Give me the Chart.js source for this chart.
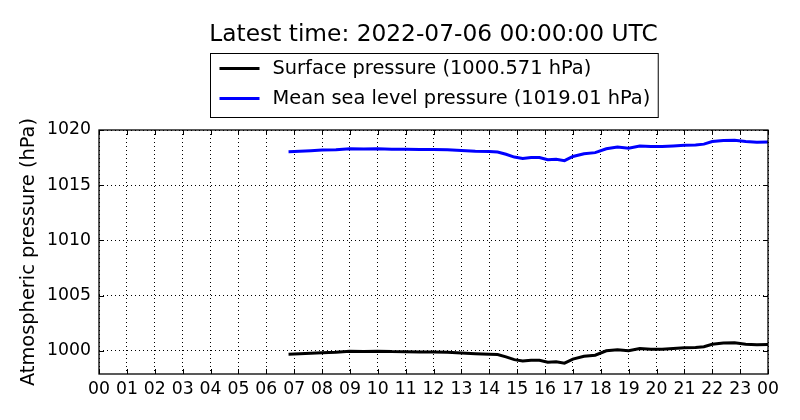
<!DOCTYPE html>
<html>
<head>
<meta charset="utf-8">
<script src="https://cdn.jsdelivr.net/npm/chart.js@4/dist/chart.umd.min.js"></script>
<style>
  body { margin: 0; background: #fff; }
  #wrap { width: 800px; height: 420px; }
</style>
</head>
<body>
<div id="wrap"><canvas id="pressure-chart" width="800" height="420"></canvas></div>
<script>
// hours since 00 UTC
const hours = [6.8, 7.2, 7.6, 8.0, 8.5, 9.0, 9.5, 10.0, 10.5, 11.0, 11.5, 12.0, 12.5, 13.0, 13.5,
  14.0, 14.3, 14.6, 14.9, 15.2, 15.5, 15.8, 16.1, 16.4, 16.7, 17.0, 17.4, 17.8, 18.2, 18.6,
  19.0, 19.4, 19.8, 20.2, 20.6, 21.0, 21.4, 21.7, 22.0, 22.4, 22.8, 23.2, 23.6, 24.0];
const surfacePressure = [999.7, 999.73, 999.78, 999.82, 999.86, 999.95, 999.93, 999.97, 999.93, 999.92,
  999.9, 999.9, 999.86, 999.8, 999.74, 999.7, 999.66, 999.45, 999.2, 999.07, 999.15, 999.15, 998.96,
  999.0, 998.88, 999.25, 999.5, 999.6, 1000.0, 1000.1, 1000.0, 1000.2, 1000.15, 1000.15, 1000.2,
  1000.27, 1000.3, 1000.37, 1000.6, 1000.7, 1000.72, 1000.6, 1000.55, 1000.57];
const mslPressure = [1018.03, 1018.07, 1018.12, 1018.18, 1018.22, 1018.3, 1018.28, 1018.3, 1018.26,
  1018.25, 1018.24, 1018.24, 1018.2, 1018.14, 1018.08, 1018.06, 1018.0, 1017.8, 1017.55, 1017.42,
  1017.5, 1017.5, 1017.3, 1017.34, 1017.22, 1017.6, 1017.85, 1017.95, 1018.3, 1018.45, 1018.35,
  1018.55, 1018.5, 1018.5, 1018.55, 1018.62, 1018.65, 1018.72, 1018.95, 1019.05, 1019.08, 1018.95,
  1018.9, 1018.92];
const xTickLabels = ["00", "01", "02", "03", "04", "05", "06", "07", "08", "09", "10", "11", "12",
  "13", "14", "15", "16", "17", "18", "19", "20", "21", "22", "23", "00"];
const yTicks = [1000, 1005, 1010, 1015, 1020];
const seriesLabels = ["Surface pressure (1000.571 hPa)", "Mean sea level pressure (1019.01 hPa)"];
const titleText = "Latest time: 2022-07-06 00:00:00 UTC";

const FONT = "'DejaVu Sans', sans-serif";

function toPoints(ys) {
  return hours.map((h, i) => ({ x: h, y: ys[i] }));
}

// title, legend box, frame and inward ticks (matplotlib look)
const decorPlugin = {
  id: "decor",
  afterDraw(chart) {
    const ctx = chart.ctx;
    const a = chart.chartArea;
    const cx = (a.left + a.right) / 2;
    ctx.save();
    // title
    ctx.fillStyle = "#000";
    ctx.font = "23.3px " + FONT;
    ctx.textAlign = "center";
    ctx.textBaseline = "middle";
    ctx.fillText(titleText, cx, 35);

    // legend
    ctx.font = "19.4px " + FONT;
    let tw = 0;
    chart.data.datasets.forEach((ds) => {
      tw = Math.max(tw, ctx.measureText(ds.label).width);
    });
    const boxW = tw + 70;
    const bx = Math.round(cx - boxW / 2) + 0.5;
    const by = 53.5;
    const boxH = 64;
    ctx.fillStyle = "#fff";
    ctx.fillRect(bx, by, boxW, boxH);
    ctx.strokeStyle = "#000";
    ctx.lineWidth = 1;
    ctx.strokeRect(bx, by, boxW, boxH);
    ctx.textAlign = "left";
    chart.data.datasets.forEach((ds, i) => {
      const ly = by + 15 + i * 30;
      ctx.strokeStyle = ds.borderColor;
      ctx.lineWidth = 3;
      ctx.beginPath();
      ctx.moveTo(bx + 9, ly);
      ctx.lineTo(bx + 49, ly);
      ctx.stroke();
      ctx.fillStyle = "#000";
      ctx.fillText(ds.label, bx + 62, ly);
    });

    // frame
    ctx.strokeStyle = "#000";
    ctx.lineWidth = 1.3;
    ctx.strokeRect(a.left, a.top, a.right - a.left, a.bottom - a.top);

    // inward ticks
    const xs = chart.scales.x;
    const ys = chart.scales.y;
    ctx.lineWidth = 1;
    ctx.beginPath();
    xs.ticks.forEach((t) => {
      const px = Math.round(xs.getPixelForValue(t.value)) + 0.5;
      ctx.moveTo(px, a.bottom);
      ctx.lineTo(px, a.bottom - 5);
      ctx.moveTo(px, a.top);
      ctx.lineTo(px, a.top + 5);
    });
    ys.ticks.forEach((t) => {
      const py = Math.round(ys.getPixelForValue(t.value)) + 0.5;
      ctx.moveTo(a.left, py);
      ctx.lineTo(a.left + 5, py);
      ctx.moveTo(a.right, py);
      ctx.lineTo(a.right - 5, py);
    });
    ctx.stroke();
    ctx.restore();
  },
};

const gridOpts = {
  color: "#000",
  lineWidth: 1,
  drawTicks: false,
};

const pressureChart = new Chart(document.getElementById("pressure-chart"), {
  type: "line",
  data: {
    datasets: [
      {
        label: seriesLabels[0],
        data: toPoints(surfacePressure),
        borderColor: "#000000",
        borderWidth: 3,
        pointRadius: 0,
        tension: 0,
      },
      {
        label: seriesLabels[1],
        data: toPoints(mslPressure),
        borderColor: "#0000ff",
        borderWidth: 3,
        pointRadius: 0,
        tension: 0,
      },
    ],
  },
  options: {
    responsive: false,
    animation: false,
    devicePixelRatio: 1,
    layout: { padding: { top: 130, right: 32, left: 0, bottom: 0 } },
    plugins: {
      legend: { display: false },
      title: { display: false },
      tooltip: { enabled: false },
    },
    scales: {
      x: {
        type: "linear",
        min: 0,
        max: 24,
        border: { display: false, dash: [1, 3] },
        grid: gridOpts,
        ticks: {
          stepSize: 1,
          autoSkip: false,
          maxRotation: 0,
          padding: 5,
          color: "#000",
          font: { family: FONT, size: 17.3 },
          callback: (v) => xTickLabels[v],
        },
        afterFit: (scale) => {
          scale.height = 46;
        },
      },
      y: {
        min: 997.9,
        max: 1020,
        border: { display: false, dash: [1, 3] },
        grid: gridOpts,
        afterBuildTicks: (scale) => {
          scale.ticks = yTicks.map((v) => ({ value: v }));
        },
        ticks: {
          padding: 8,
          color: "#000",
          font: { family: FONT, size: 17.3 },
          callback: (v) => String(v),
        },
        title: {
          display: true,
          text: "Atmospheric pressure (hPa)",
          color: "#000",
          font: { family: FONT, size: 19.4 },
          padding: { top: 17, bottom: 0 },
        },
        afterFit: (scale) => {
          scale.width = 99;
        },
      },
    },
  },
  plugins: [decorPlugin],
});
</script>
</body>
</html>
